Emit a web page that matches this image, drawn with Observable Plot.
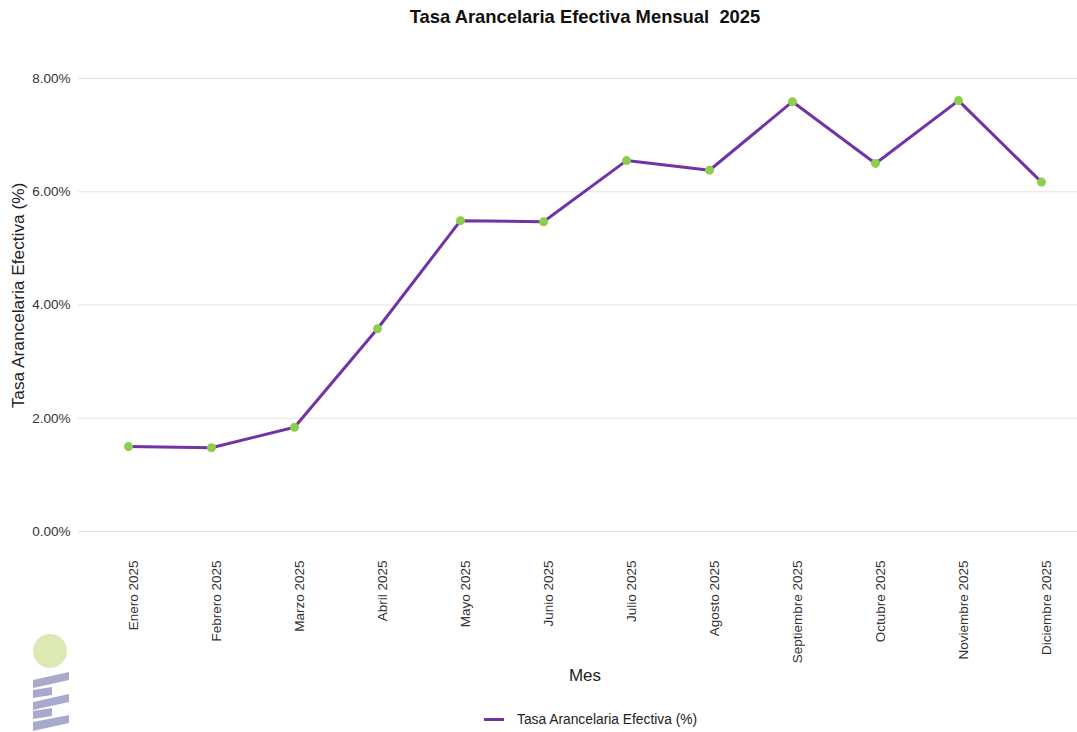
<!DOCTYPE html>
<html>
<head>
<meta charset="utf-8">
<script src="https://cdn.jsdelivr.net/npm/d3@7"></script>
<script src="https://cdn.jsdelivr.net/npm/@observablehq/plot@0.6"></script>
<style>
  html, body { margin: 0; padding: 0; background: #fff; }
  body { width: 1077px; height: 732px; position: relative; overflow: hidden;
         font-family: "Liberation Sans", Arial, sans-serif; }
  #chart { position: absolute; left: 0; top: 0; }
  #title { position: absolute; left: 0; width: 1170px; top: 6px; text-align: center;
           font-weight: bold; font-size: 18.4px; color: #111; white-space: pre; }
  #legend { position: absolute; left: 484px; top: 712px; display: flex; align-items: center;
            font-size: 13.8px; color: #222; }
  #legend .sw { width: 20px; height: 3px; background: #7232a8; margin-right: 13px; }
  #logo { position: absolute; left: 0; top: 620px; }
</style>
</head>
<body>
<div id="chart"></div>
<div id="title">Tasa Arancelaria Efectiva Mensual  2025</div>
<div id="legend"><div class="sw"></div><span>Tasa Arancelaria Efectiva (%)</span></div>
<svg id="logo" width="80" height="112" viewBox="0 620 80 112">
  <circle cx="50" cy="651" r="17" fill="#dde9b2"/>
  <g fill="#a8aacd">
    <polygon points="33,680 69,672 69,680 33,688"/>
    <polygon points="33,690 52,687 52,695 33,698"/>
    <polygon points="33,702 69,694 69,702 33,710"/>
    <polygon points="33,711 52,708 52,716 33,719"/>
    <polygon points="33,722 69,715 69,723 33,731"/>
  </g>
</svg>
<script>
const months = ["Enero 2025", "Febrero 2025", "Marzo 2025", "Abril 2025", "Mayo 2025", "Junio 2025",
                "Julio 2025", "Agosto 2025", "Septiembre 2025", "Octubre 2025", "Noviembre 2025", "Diciembre 2025"];
const rates = [1.50, 1.48, 1.84, 3.58, 5.49, 5.47, 6.55, 6.38, 7.59, 6.50, 7.61, 6.17];
const yTicks = [0, 2, 4, 6, 8];
const xTitle = ["Mes"];
const yTitle = ["Tasa Arancelaria Efectiva (%)"];

const data = months.map((m, i) => ({mes: m, tasa: rates[i]}));

const plot = Plot.plot({
  width: 1077,
  height: 732,
  marginLeft: 78,
  marginRight: 0,
  marginTop: 42,
  marginBottom: 184,
  style: {fontFamily: "'Liberation Sans', Arial, sans-serif", fontSize: "13.5px", background: "transparent"},
  x: {type: "point", domain: months, range: [128, 1041], padding: 0},
  y: {domain: [0, 8], range: [531, 78]},
  marks: [
    Plot.gridY(yTicks, {stroke: "#e3e3e3", strokeOpacity: 1, strokeWidth: 1.2}),
    Plot.axisY(yTicks, {tickSize: 0, tickPadding: 8, tickFormat: d => d.toFixed(2) + "%",
                        fill: "#333", fontSize: 13.5, label: null}),
    Plot.axisX({tickSize: 0, tickPadding: 12, tickRotate: -90, dx: 5, fill: "#333", fontSize: 13.5, label: null}),
    Plot.text(yTitle, {text: d => d, frameAnchor: "left", textAnchor: "middle", rotate: -90, dx: -60,
                       fontSize: 17.3, fill: "#222"}),
    Plot.text(xTitle, {text: d => d, frameAnchor: "bottom", dx: 7, dy: 132,
                       fontSize: 17, fill: "#222"}),
    Plot.line(data, {x: "mes", y: "tasa", stroke: "#7232a8", strokeWidth: 3}),
    Plot.dot(data, {x: "mes", y: "tasa", r: 4.5, fill: "#8ccf4d", stroke: "none"})
  ]
});
document.getElementById("chart").appendChild(plot);
</script>
</body>
</html>
